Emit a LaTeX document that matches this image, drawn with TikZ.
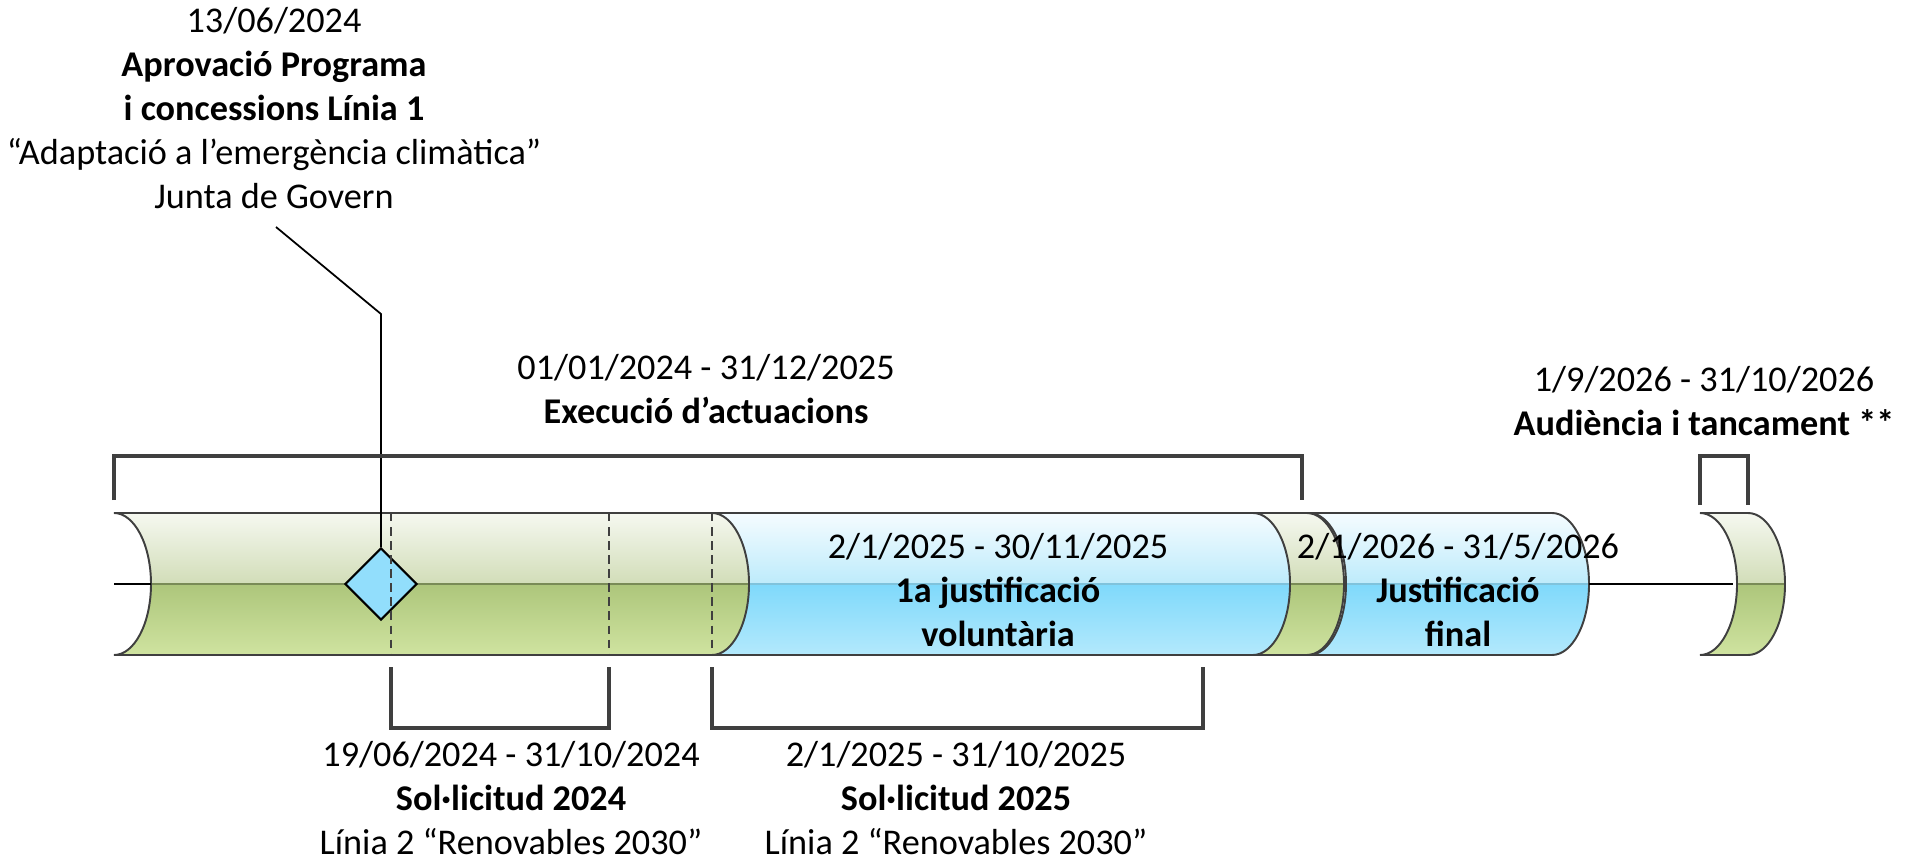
\documentclass[tikz,border=0pt]{standalone}
\usepackage{fontspec}
\setmainfont{Carlito}
\usetikzlibrary{shapes.geometric}

\definecolor{greenA}{HTML}{F5F8F0}
\definecolor{greenB}{HTML}{D2DDB8}
\definecolor{greenC}{HTML}{ADC67B}
\definecolor{greenD}{HTML}{CFE3A0}
\definecolor{blueA}{HTML}{F5FCFF}
\definecolor{blueB}{HTML}{BDEBFB}
\definecolor{blueC}{HTML}{7FD9FB}
\definecolor{blueD}{HTML}{B3E9FC}
\definecolor{tubeline}{HTML}{3F3F3F}
\definecolor{diamondblue}{HTML}{92DEFC}

\begin{document}
\begin{tikzpicture}
[x=0.01cm,y=0.01cm,
outline/.style={draw=tubeline,line width=0.55pt},
topgreen/.style={top color=greenA,bottom color=greenB},
botgreen/.style={top color=greenC,bottom color=greenD},
topblue/.style={top color=blueA,bottom color=blueB},
botblue/.style={top color=blueC,bottom color=blueD},
midgreen/.style={draw=greenC!70!black,line width=0.3pt},
midblue/.style={draw=blueC!75!gray,line width=0.3pt},
brace/.style={draw=tubeline,line width=0.9pt},
marker/.style={draw=tubeline,line width=0.45pt,dash pattern=on 2.4pt off 1.6pt},
axis/.style={draw=black,line width=0.6pt},
leader/.style={draw=black,line width=0.5pt},
milestone/.style={diamond,draw=black,fill=diamondblue,line width=0.6pt,inner sep=0pt,minimum width=0.72cm,minimum height=0.72cm},
period/.style={align=center,font=\fontsize{10.3}{12.5}\selectfont,inner sep=0pt}]

\useasboundingbox (0,0) rectangle (1921,860);

\def \tubetop {347}
\def \tubebot {205}
\def \tubemid {276}
\def \rx {37}
\def \ry {71}

% Drawing tubes
\foreach \xl/\xr/\col in {114/1307/green,712/1253/blue,1309/1552/blue,1700/1748/green} {
	\begin{scope}
		\clip (\xl,\tubetop) arc[start angle=90,end angle=-90,x radius=\rx,y radius=\ry] -- (\xr,\tubebot) arc[start angle=-90,end angle=90,x radius=\rx,y radius=\ry] -- cycle;
		\fill[top\col] (\xl,\tubemid) rectangle (\xr+\rx,\tubetop);
		\fill[bot\col] (\xl,\tubebot) rectangle (\xr+\rx,\tubemid);
		\draw[mid\col] (\xl,\tubemid) -- (\xr+\rx,\tubemid);
	\end{scope}
	\draw[outline] (\xl,\tubetop) arc[start angle=90,end angle=-90,x radius=\rx,y radius=\ry] -- (\xr,\tubebot) arc[start angle=-90,end angle=90,x radius=\rx,y radius=\ry] -- cycle;
}

% Axis pieces
\coordinate (startl) at (114,\tubemid);
\coordinate (startr) at (114+\rx,\tubemid);
\coordinate (gapl) at (1552+\rx,\tubemid);
\coordinate (gapr) at (1700+\rx-4,\tubemid);
\draw[axis] (startl) -- (startr);
\draw[axis] (gapl) -- (gapr);

% Milestone
\node[milestone] (fita) at (381,\tubemid) {};

% Dashed markers
\foreach \x in {391,609,712} {
	\draw[marker] (\x,\tubetop) -- (\x,\tubebot);
}

% Labels
\node[period] (aprov) at (274,752) {13/06/2024\\\textbf{Aprovació Programa}\\\textbf{i concessions Línia 1}\\“Adaptació a l’emergència climàtica”\\Junta de Govern};
\node[period] (exec) at (706,471) {01/01/2024 - 31/12/2025\\\textbf{Execució d’actuacions}};
\node[period] (audiencia) at (1704,459) {1/9/2026 - 31/10/2026\\\textbf{Audiència i tancament **}};
\node[period] (just1) at (998,270) {2/1/2025 - 30/11/2025\\\textbf{1a justificació}\\\textbf{voluntària}};
\node[period] (just2) at (1458,270) {2/1/2026 - 31/5/2026\\\textbf{Justificació}\\\textbf{final}};
\node[period] (sol24) at (511,62) {19/06/2024 - 31/10/2024\\\textbf{Sol·licitud 2024}\\Línia 2 “Renovables 2030”};
\node[period] (sol25) at (956,62) {2/1/2025 - 31/10/2025\\\textbf{Sol·licitud 2025}\\Línia 2 “Renovables 2030”};

% Leader to milestone
\coordinate (lead1) at (276,633);
\coordinate (lead2) at (381,546);
\draw[leader] (lead1) -- (lead2) -- (fita.north);

% Brackets
\draw[brace] (114,360) -- (114,404) -- (1302,404) -- (1302,360);
\draw[brace] (1700,355) -- (1700,404) -- (1748,404) -- (1748,355);
\draw[brace] (391,193) -- (391,132) -- (609,132) -- (609,193);
\draw[brace] (712,193) -- (712,132) -- (1203,132) -- (1203,193);
\end{tikzpicture}
\end{document}
